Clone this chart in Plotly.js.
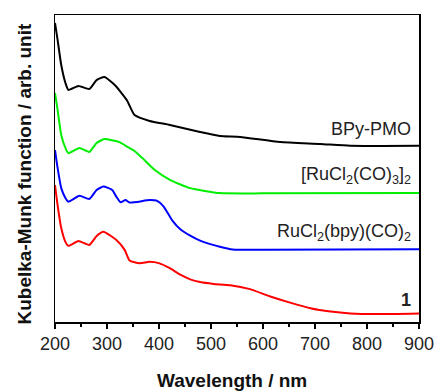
<!DOCTYPE html>
<html><head><meta charset="utf-8">
<script src="https://cdn.plot.ly/plotly-3.0.1.min.js"></script>
<style>html,body{margin:0;padding:0;background:#fff}#c{width:436px;height:392px}</style>
</head><body><div id="c"></div>
<script>
const wlBlack = [200,205,212,220,225.7,245,266,280,295,315,338,353,382,421,479,517,556,633,710,768,900];
const kmBlack = [0.974,0.919,0.837,0.779,0.756,0.769,0.759,0.788,0.798,0.772,0.723,0.674,0.655,0.642,0.619,0.606,0.603,0.586,0.580,0.574,0.574];
const wlGreen = [200,205,212,220,225.7,247,266,280,295,324,340,353,368,392,421,460,517,600,900];
const kmGreen = [0.746,0.691,0.609,0.567,0.550,0.567,0.554,0.583,0.596,0.586,0.570,0.557,0.534,0.495,0.463,0.436,0.420,0.419,0.420];
const wlBlue = [200,205,212,220,225.7,247,266,280,293,310,318,326,335.7,343.5,382,397,409,425,441,460,479,517,542,600,900];
const kmBlue = [0.560,0.502,0.436,0.404,0.392,0.411,0.401,0.430,0.441,0.430,0.408,0.390,0.397,0.389,0.397,0.394,0.376,0.332,0.302,0.281,0.265,0.245,0.236,0.235,0.237];
const wlRed = [200,205,212,220,225.7,245,266,280,293,318,334,343.5,362.7,382,401,420,441,460,479,505,537,575,614,652,691,730,768,820,900];
const kmRed = [0.446,0.381,0.306,0.261,0.248,0.264,0.251,0.280,0.294,0.267,0.235,0.200,0.191,0.196,0.191,0.176,0.154,0.139,0.130,0.124,0.120,0.107,0.083,0.063,0.045,0.034,0.028,0.026,0.028];
const seriesNames = ["BPy-PMO","[RuCl<sub>2</sub>(CO)<sub>3</sub>]<sub>2</sub>","RuCl<sub>2</sub>(bpy)(CO)<sub>2</sub>","<b>1</b>"];
const labelY = [0.629,0.476,0.293,0.072];
const xTicks = [200,300,400,500,600,700,800,900];

const mk = (x,y,c)=>({x:x,y:y,type:'scatter',mode:'lines',line:{color:c,width:2,shape:'spline',smoothing:0.5},hoverinfo:'skip'});
const data = [mk(wlBlack,kmBlack,'#000000'),mk(wlGreen,kmGreen,'#00ee00'),mk(wlBlue,kmBlue,'#0000ff'),mk(wlRed,kmRed,'#ff0000')];
const F = "Liberation Sans, Arial, sans-serif";
const ann = seriesNames.map((t,i)=>({x:888,y:labelY[i],xref:'x',yref:'y',text:t,showarrow:false,xanchor:'right',yanchor:'middle',font:{family:F,size:18,color:'#222'}}));
ann.push({x:0.5,y:0,xref:'paper',yref:'paper',xshift:-5,yshift:-46,text:'<b>Wavelength / nm</b>',showarrow:false,xanchor:'center',yanchor:'top',font:{family:F,size:19,color:'#111'}});
ann.push({x:0,y:0.5,xref:'paper',yref:'paper',xshift:-31,yshift:-5,text:'<b>Kubelka-Munk function / arb. unit</b>',textangle:-90,showarrow:false,xanchor:'center',yanchor:'middle',font:{family:F,size:19,color:'#111'}});
const layout = {
  width:436,height:392,margin:{l:55,r:17,t:15,b:70},
  paper_bgcolor:'#fff',plot_bgcolor:'#fff',showlegend:false,
  xaxis:{range:[200,900],tickvals:xTicks,ticks:'outside',ticklen:5,tickwidth:1.5,tickcolor:'#000',
    minor:{dtick:50,tick0:200,ticks:'outside',ticklen:3,tickwidth:1.5,tickcolor:'#000'},
    showline:true,linecolor:'#000',linewidth:1.5,mirror:true,showgrid:false,zeroline:false,
    tickfont:{family:F,size:18,color:'#222'}},
  yaxis:{range:[0,1],showticklabels:false,ticks:'',showline:true,linecolor:'#000',linewidth:1.5,mirror:true,showgrid:false,zeroline:false},
  annotations:ann
};
Plotly.newPlot('c',data,layout,{staticPlot:true});
</script></body></html>
